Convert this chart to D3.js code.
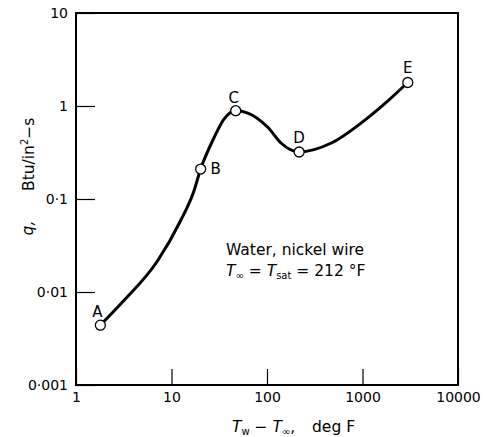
<!DOCTYPE html>
<html><head><meta charset="utf-8">
<script src="https://d3js.org/d3.v7.min.js"></script>
<style>body{margin:0;background:#fff}svg{display:block}text{font-family:"DejaVu Sans",sans-serif;fill:#000}</style>
</head><body><script>
const W=484,H=437;
// data
const xTicks=[1,10,100,1000,10000];
const xTickLabels=["1","10","100","1000","10000"];
const yTicks=[0.001,0.01,0.1,1,10];
const yTickLabels=["0·001","0·01","0·1","1","10"];
const pointNames=["A","B","C","D","E"];
const pointX=[1.8,20.2,47,217,2980];
const pointY=[0.0044,0.21,0.89,0.32,1.79];
const curveX=[1.8,3.1,7.1,12.4,17,20.2,27.7,35.3,47,63,102,140,217,472,1050,1870,2980];
const curveY=[0.0044,0.0079,0.0214,0.058,0.118,0.21,0.45,0.72,0.89,0.84,0.59,0.40,0.32,0.40,0.70,1.15,1.79];

const L=76,R=458,T=13,B=385;
const svg=d3.select("body").append("svg").attr("width",W).attr("height",H);
const x=d3.scaleLog().domain([1,10000]).range([L,R]);
const y=d3.scaleLog().domain([0.001,10]).range([B,T]);

const xa=svg.append("g").attr("transform",`translate(0,${B})`)
  .call(d3.axisBottom(x).tickValues(xTicks).tickSize(-16).tickPadding(7).tickFormat((d,i)=>xTickLabels[i]));
const ya=svg.append("g").attr("transform",`translate(${L},0)`)
  .call(d3.axisLeft(y).tickValues(yTicks).tickSize(-19).tickPadding(8).tickFormat((d,i)=>yTickLabels[i]));
[xa,ya].forEach(g=>{g.select(".domain").remove();g.selectAll("line").attr("stroke","#000").attr("stroke-width",1.2);
  g.selectAll("text").attr("font-size",14).style("font-family","'DejaVu Sans',sans-serif");});

svg.append("rect").attr("x",L).attr("y",T).attr("width",R-L).attr("height",B-T)
  .attr("fill","none").attr("stroke","#000").attr("stroke-width",2);

const line=d3.line().x(d=>x(d[0])).y(d=>y(d[1])).curve(d3.curveMonotoneX);
svg.append("path").attr("d",line(curveX.map((v,i)=>[v,curveY[i]])))
  .attr("fill","none").attr("stroke","#000").attr("stroke-width",3);

svg.selectAll("circle.pt").data(pointX).join("circle").attr("class","pt")
  .attr("cx",d=>x(d)).attr("cy",(d,i)=>y(pointY[i])).attr("r",5)
  .attr("fill","#fff").attr("stroke","#000").attr("stroke-width",1.3);

const lblOff=[[-3,-8],[15,5],[-2,-8],[0,-9],[0,-9]];
svg.selectAll("text.pl").data(pointNames).join("text").attr("class","pl")
  .attr("x",(d,i)=>x(pointX[i])+lblOff[i][0]).attr("y",(d,i)=>y(pointY[i])+lblOff[i][1])
  .attr("text-anchor","middle").attr("font-size",15).text(d=>d);

svg.append("text").attr("x",226).attr("y",255).attr("font-size",15.5).text("Water, nickel wire");
const t2=svg.append("text").attr("x",226).attr("y",276).attr("font-size",15.5);
t2.append("tspan").attr("font-style","italic").text("T");
t2.append("tspan").attr("font-size",10).attr("dy",3).text("∞");
t2.append("tspan").attr("dy",-3).text(" = ");
t2.append("tspan").attr("font-style","italic").text("T");
t2.append("tspan").attr("font-size",10).attr("dy",3).text("sat");
t2.append("tspan").attr("dy",-3).text(" = 212 °F");

const xt=svg.append("text").attr("x",232).attr("y",432).attr("font-size",15.5);
xt.append("tspan").attr("font-style","italic").text("T");
xt.append("tspan").attr("font-size",10).attr("dy",3).text("w");
xt.append("tspan").attr("dy",-3).text(" − ");
xt.append("tspan").attr("font-style","italic").text("T");
xt.append("tspan").attr("font-size",10).attr("dy",3).text("∞");
xt.append("tspan").attr("dy",-3).text(",");
svg.append("text").attr("x",312).attr("y",432).attr("font-size",15.5).text("deg F");

svg.append("text").attr("transform","translate(33,228) rotate(-90)").attr("text-anchor","middle")
  .attr("font-size",15.5).attr("font-style","italic").text("q,");
const yt=svg.append("text").attr("transform","translate(34,191) rotate(-90)").attr("font-size",15.5);
yt.append("tspan").text("Btu/in");
yt.append("tspan").attr("font-size",10).attr("dy",-6).text("2");
yt.append("tspan").attr("dy",6).text("−s");
</script></body></html>
